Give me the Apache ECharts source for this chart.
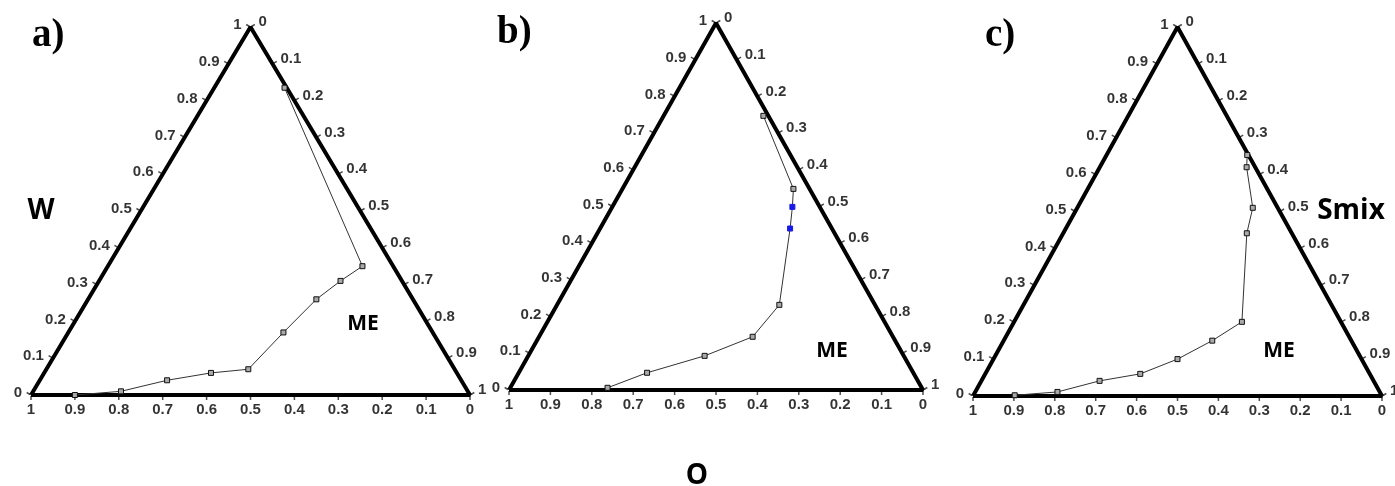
<!DOCTYPE html>
<html>
<head>
<meta charset="utf-8">
<script src="https://cdn.jsdelivr.net/npm/echarts@6/dist/echarts.min.js"></script>
<style>
  html, body { margin: 0; padding: 0; background: #fff; }
  #chart { width: 1395px; height: 486px; }
</style>
</head>
<body>
<div id="chart"></div>
<script>
// tick values along each edge of the ternary plots
const tickValues = [0, 0.1, 0.2, 0.3, 0.4, 0.5, 0.6, 0.7, 0.8, 0.9, 1];
const tickLabels = ['0', '0.1', '0.2', '0.3', '0.4', '0.5', '0.6', '0.7', '0.8', '0.9', '1'];

// phase boundary points, as W (water) and Smix fractions; O = 1 - W - Smix
const aWater = [0.835, 0.35, 0.31, 0.26, 0.17, 0.07, 0.06, 0.04, 0.01, 0.0];
const aSmix  = [0.16, 0.58, 0.55, 0.52, 0.49, 0.46, 0.38, 0.29, 0.20, 0.10];

const bWater = [0.747, 0.548, 0.499, 0.44, 0.232, 0.145, 0.093, 0.047, 0.006];
const bSmix  = [0.241, 0.413, 0.435, 0.459, 0.537, 0.516, 0.426, 0.310, 0.235];

const cWater = [0.653, 0.62, 0.51, 0.441, 0.201, 0.15, 0.10, 0.06, 0.041, 0.011, 0.002];
const cSmix  = [0.344, 0.359, 0.429, 0.449, 0.557, 0.51, 0.45, 0.379, 0.289, 0.201, 0.101];

const panelNames = ['a)', 'b)', 'c)'];

// ternary -> cartesian (base from O=1 at left to Smix=1 at right, W=1 at apex)
function proj(w, s) {
  return [s + w / 2, w];
}

const grids = [
  { left: 31, top: 27, width: 439, height: 368 },
  { left: 509, top: 23, width: 414, height: 367 },
  { left: 973, top: 27, width: 409, height: 369 }
];

const panels = [
  { water: aWater, smix: aSmix, blue: [] },
  { water: bWater, smix: bSmix, blue: [2, 3] },
  { water: cWater, smix: cSmix, blue: [] }
];

const labelFont = {
  color: '#000',
  fontFamily: 'Liberation Sans, Arial, sans-serif',
  fontWeight: 'bold',
  fontSize: 15
};

const series = [];
panels.forEach((p, i) => {
  const axis = { xAxisIndex: i, yAxisIndex: i };

  // triangle outline
  series.push(Object.assign({
    type: 'line',
    data: [proj(0, 0), proj(1, 0), proj(0, 1), proj(0, 0)],
    symbol: 'none',
    clip: false,
    silent: true,
    lineStyle: { color: '#000', width: 4 },
    z: 3
  }, axis));

  // ticks on the three edges
  series.push(Object.assign({
    type: 'scatter',
    data: tickValues.map(t => proj(0, 1 - t)),
    symbol: 'rect', symbolSize: [1.5, 4], symbolOffset: [0, 3],
    itemStyle: { color: '#222' }, silent: true, clip: false
  }, axis));
  series.push(Object.assign({
    type: 'scatter',
    data: tickValues.map(t => proj(t, 0)),
    symbol: 'rect', symbolSize: [1.5, 4], symbolOffset: [-2.6, -1.5], symbolRotate: 60,
    itemStyle: { color: '#222' }, silent: true, clip: false
  }, axis));
  series.push(Object.assign({
    type: 'scatter',
    data: tickValues.map(t => proj(1 - t, t)),
    symbol: 'rect', symbolSize: [1.5, 4], symbolOffset: [2.6, -1.5], symbolRotate: -60,
    itemStyle: { color: '#222' }, silent: true, clip: false
  }, axis));

  // tick labels: O along the base, W on the left edge, Smix on the right edge
  series.push(Object.assign({
    type: 'scatter', symbolSize: 0, silent: true, clip: false,
    data: tickValues.map((t, k) => ({ name: tickLabels[k], value: proj(0, 1 - t) })),
    label: Object.assign({ show: true, position: 'bottom', distance: 7, formatter: '{b}' }, labelFont)
  }, axis));
  series.push(Object.assign({
    type: 'scatter', symbolSize: 0, silent: true, clip: false,
    data: tickValues.map((t, k) => ({ name: tickLabels[k], value: proj(t, 0) })),
    label: Object.assign({ show: true, position: 'left', distance: 9, offset: [0, -2], formatter: '{b}' }, labelFont)
  }, axis));
  series.push(Object.assign({
    type: 'scatter', symbolSize: 0, silent: true, clip: false,
    data: tickValues.map((t, k) => ({ name: tickLabels[k], value: proj(1 - t, t) })),
    label: Object.assign({ show: true, position: 'right', distance: 8, offset: [0, -5], formatter: '{b}' }, labelFont)
  }, axis));

  // phase boundary
  series.push(Object.assign({
    type: 'line',
    data: p.water.map((w, k) => {
      const item = { value: proj(w, p.smix[k]) };
      if (p.blue.includes(k)) {
        item.itemStyle = { color: '#1a1ae6', borderColor: '#1a1ae6' };
      }
      return item;
    }),
    symbol: 'rect',
    symbolSize: 5,
    showAllSymbol: true,
    clip: false,
    lineStyle: { color: '#333', width: 1 },
    itemStyle: { color: '#aaa', borderColor: '#111', borderWidth: 1 },
    z: 4
  }, axis));
});

function txt(x, y, text, font, align) {
  return {
    type: 'text', x: x, y: y, silent: true,
    style: {
      text: text, font: font, fill: '#000',
      align: align || 'center', verticalAlign: 'middle',
      textAlign: align || 'center', textVerticalAlign: 'middle'
    }
  };
}

const sansBold = 'bold 28px "Open Sans", "Noto Sans", sans-serif';
const meFont = 'bold 21px "Open Sans", "Noto Sans", sans-serif';
const serifBold = 'bold 39px "Liberation Serif", "Times New Roman", serif';

const option = {
  animation: false,
  backgroundColor: '#fff',
  grid: grids,
  xAxis: grids.map((g, i) => ({ type: 'value', gridIndex: i, min: 0, max: 1, show: false })),
  yAxis: grids.map((g, i) => ({ type: 'value', gridIndex: i, min: 0, max: 1, show: false })),
  series: series,
  graphic: [
    txt(32, 36, panelNames[0], serifBold, 'left'),
    txt(497, 33, panelNames[1], serifBold, 'left'),
    txt(985, 36, panelNames[2], serifBold, 'left'),
    txt(41, 211, 'W', sansBold),
    txt(1351, 211, 'Smix', sansBold),
    txt(697, 476, 'O', sansBold),
    txt(363, 324, 'ME', meFont),
    txt(832, 351, 'ME', meFont),
    txt(1279, 351, 'ME', meFont)
  ]
};

const chart = echarts.init(document.getElementById('chart'));
chart.setOption(option);
</script>
</body>
</html>
